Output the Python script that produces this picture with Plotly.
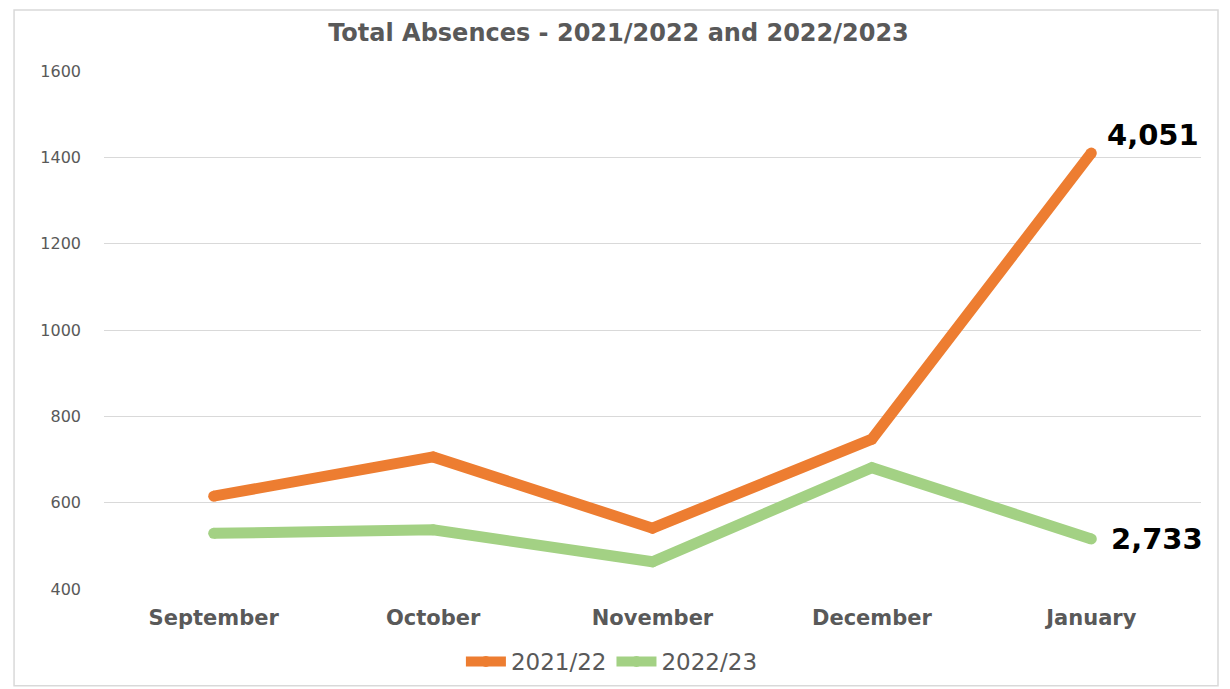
import plotly.graph_objects as go

months = ["September", "October", "November", "December", "January"]
absences_2122 = [615, 706, 541, 747, 1410]
absences_2223 = [529, 537, 463, 681, 516]
series_names = ["2021/22", "2022/23"]
totals = [4051, 2733]
y_ticks = [400, 600, 800, 1000, 1200, 1400, 1600]

orange = "#ED7D31"
green = "#A3D184"
gray = "#595959"

fig = go.Figure()
for name, vals, col in [(series_names[0], absences_2122, orange),
                        (series_names[1], absences_2223, green)]:
    fig.add_trace(go.Scatter(x=months, y=vals, mode="lines+markers", name=name,
                             line=dict(color=col, width=11, shape="linear"),
                             marker=dict(color=col, size=11, line=dict(width=0)),
                             hoverinfo="skip"))

# total labels at the last point
fig.add_annotation(x=months[-1], y=absences_2122[-1], text=f"{totals[0]:,}",
                   showarrow=False, xanchor="left", yanchor="middle",
                   xshift=14, yshift=18,
                   font=dict(family="DejaVu Sans", size=29, color="#000000", weight="bold"))
fig.add_annotation(x=months[-1], y=absences_2223[-1], text=f"{totals[1]:,}",
                   showarrow=False, xanchor="left", yanchor="middle",
                   xshift=18, yshift=0,
                   font=dict(family="DejaVu Sans", size=29, color="#000000", weight="bold"))

# chart border
fig.add_shape(type="rect", xref="paper", yref="paper",
              x0=-0.082, x1=1.0155, y0=-0.187, y1=1.118,
              line=dict(color="#D9D9D9", width=1.5), fillcolor="rgba(0,0,0,0)")

fig.update_layout(
    width=1230, height=689,
    margin=dict(l=96, r=37, t=63, b=108, autoexpand=False),
    paper_bgcolor="white", plot_bgcolor="white",
    title=dict(text="Total Absences - 2021/2022 and 2022/2023",
               x=0.469, xref="paper", xanchor="center", y=0.964, yanchor="middle",
               font=dict(family="DejaVu Sans", size=24, color=gray, weight="bold")),
    showlegend=True,
    legend=dict(orientation="h", x=0.463, xanchor="center", y=-0.14, yanchor="middle",
                font=dict(family="DejaVu Sans", size=23, color=gray),
                itemwidth=40, bgcolor="rgba(0,0,0,0)"),
    xaxis=dict(range=[-0.5, 4.5], showgrid=False, zeroline=False, showline=False, ticks="",
               tickfont=dict(family="DejaVu Sans", size=21, color=gray, weight="bold"),
               ticklabelstandoff=14, fixedrange=True),
    yaxis=dict(range=[400, 1600], tickvals=y_ticks, showgrid=True,
               gridcolor="#D9D9D9", gridwidth=1, zeroline=False, showline=False,
               ticks="", tickfont=dict(family="DejaVu Sans", size=16, color=gray),
               ticklabelstandoff=22, fixedrange=True),
)

fig.write_html("out.html")
